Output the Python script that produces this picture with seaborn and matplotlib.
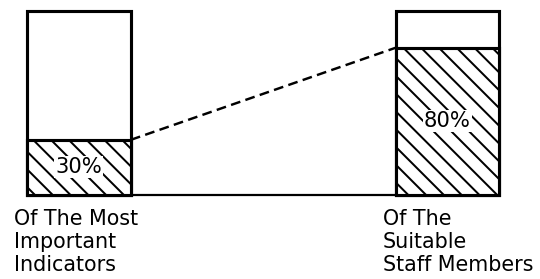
import seaborn as sns
import matplotlib.pyplot as plt
import pandas as pd

# data
categories = ["Of The Most\nImportant\nIndicators", "Of The\nSuitable\nStaff Members"]
share = [30, 80]
full = [100, 100]
pct_labels = ["30%", "80%"]

sns.set_style("white")
plt.rcParams["font.family"] = ["DejaVu Sans"]
plt.rcParams["hatch.linewidth"] = 0.9

df = pd.DataFrame({"cat": categories, "share": share, "full": full})

fig = plt.figure(figsize=(3.375, 1.74375), dpi=160)
ax = fig.add_axes([0, 0, 1, 1])
w = 0.282

# outline of the whole bar
sns.barplot(data=df, x="cat", y="full", color="white", edgecolor="black",
            linewidth=1.4, width=w, ax=ax, saturation=1)
# hatched share
sns.barplot(data=df, x="cat", y="share", color="white", edgecolor="black",
            linewidth=1.4, width=w, ax=ax, saturation=1, hatch="\\\\\\")

# dashed connector and baseline
ax.plot([0 + w / 2, 1 - w / 2], [share[0], share[1]], color="black",
        lw=1.1, ls=(0, (4, 2.2)))
ax.plot([0 + w / 2, 1 - w / 2], [0, 0], color="black", lw=1.0)

for i, (v, t) in enumerate(zip(share, pct_labels)):
    ax.text(i, v / 2, t, ha="center", va="center", fontsize=9.5,
            color="black",
            bbox=dict(facecolor="white", edgecolor="none", pad=0.5))

# category labels under bars
ax.text(-0.176, -7.5, categories[0], ha="left", va="top", fontsize=9.3,
        color="black", linespacing=1.2)
ax.text(0.825, -7.5, categories[1], ha="left", va="top", fontsize=9.3,
        color="black", linespacing=1.2)

ax.set_xlim(-0.214, 1.251)
ax.set_ylim(-45.65, 105.98)
ax.axis("off")

fig.savefig("out.png", dpi=160, facecolor="white")
